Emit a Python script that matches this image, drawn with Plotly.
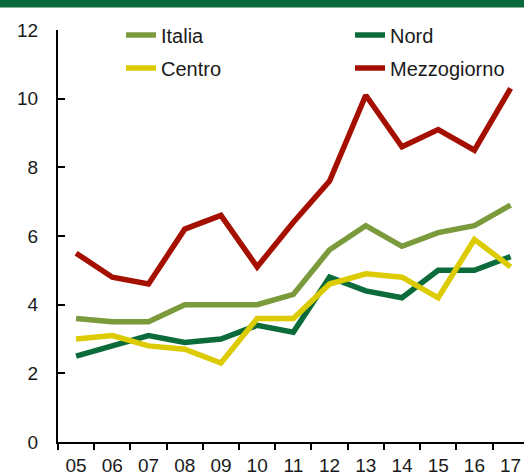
import plotly.graph_objects as go

years = ["05", "06", "07", "08", "09", "10", "11", "12", "13", "14", "15", "16", "17"]
italia = [3.6, 3.5, 3.5, 4.0, 4.0, 4.0, 4.3, 5.6, 6.3, 5.7, 6.1, 6.3, 6.9]
nord = [2.5, 2.8, 3.1, 2.9, 3.0, 3.4, 3.2, 4.8, 4.4, 4.2, 5.0, 5.0, 5.4]
centro = [3.0, 3.1, 2.8, 2.7, 2.3, 3.6, 3.6, 4.6, 4.9, 4.8, 4.2, 5.9, 5.1]
mezzogiorno = [5.5, 4.8, 4.6, 6.2, 6.6, 5.1, 6.4, 7.6, 10.1, 8.6, 9.1, 8.5, 10.3]
y_ticks = [0, 2, 4, 6, 8, 10, 12]

series = [
    ("Italia", italia, "#7b9a3c", "legend"),
    ("Nord", nord, "#0b6b3a", "legend2"),
    ("Centro", centro, "#dccb00", "legend3"),
    ("Mezzogiorno", mezzogiorno, "#a50f00", "legend4"),
]

W, H = 524, 472
ML, MR, MT, MB = 58, 0, 30, 30
PW = W - ML - MR
PH = H - MT - MB

fig = go.Figure()
for name, vals, col, lg in series:
    fig.add_trace(go.Scatter(
        x=years, y=vals, name=name, mode="lines",
        line=dict(color=col, width=5.5),
        legend=lg,
    ))

def px_x(px):
    return (px - ML) / PW

def px_y(px):
    return (H - MB - px) / PH

legfont = dict(family="Arial, Liberation Sans, sans-serif", size=20, color="#1a1a1a")
leg_common = dict(bgcolor="rgba(0,0,0,0)", borderwidth=0, font=legfont,
                  xanchor="left", yanchor="middle", xref="paper", yref="paper")

fig.update_layout(
    width=W, height=H,
    margin=dict(l=ML, r=MR, t=MT, b=MB, pad=0, autoexpand=False),
    paper_bgcolor="white", plot_bgcolor="white",
    showlegend=True,
    legend=dict(x=px_x(121), y=px_y(35), **leg_common),
    legend2=dict(x=px_x(350), y=px_y(35), **leg_common),
    legend3=dict(x=px_x(121), y=px_y(68), **leg_common),
    legend4=dict(x=px_x(350), y=px_y(68), **leg_common),
    xaxis=dict(
        type="category", range=[-0.5, 12.37], automargin=False,
        tickson="boundaries", ticks="outside", ticklen=6, tickwidth=1.5,
        tickcolor="black", showline=True, linecolor="black", linewidth=2,
        showgrid=False, zeroline=False, ticklabelstandoff=5,
        tickfont=dict(family="Arial, Liberation Sans, sans-serif", size=19, color="#1a1a1a"),
    ),
    yaxis=dict(
        range=[0, 12], tickvals=y_ticks, ticktext=[str(v) for v in y_ticks],
        automargin=False,
        ticks="inside", ticklen=7, tickwidth=1.5, tickcolor="black",
        showline=True, linecolor="black", linewidth=2,
        showgrid=False, zeroline=False, ticklabelstandoff=14,
        tickfont=dict(family="Arial, Liberation Sans, sans-serif", size=19, color="#1a1a1a"),
    ),
    shapes=[dict(
        type="rect", xref="paper", yref="paper",
        x0=-0.3, x1=1.1, ysizemode="pixel", yanchor=1, y0=MT - 7.5, y1=MT + 5,
        fillcolor="#0a6a3b", line=dict(width=0), layer="above",
    )],
)

fig.write_html(
    "out.html",
    config={"displayModeBar": False},
    post_script="document.body.style.margin='0';document.body.style.overflow='hidden';",
)
